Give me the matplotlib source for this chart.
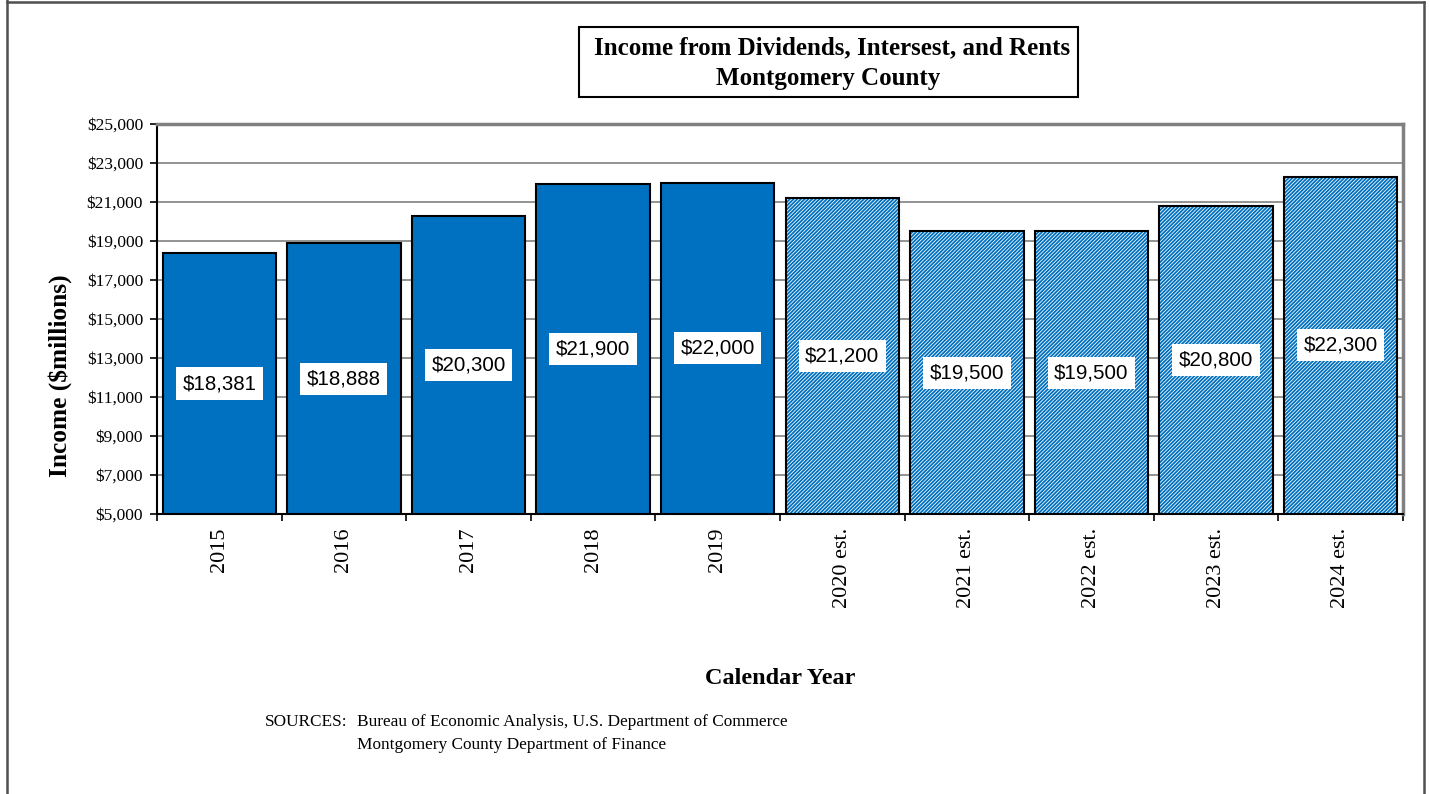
import matplotlib
matplotlib.use("Agg")
import matplotlib.pyplot as plt
from matplotlib.patches import Rectangle
from matplotlib.lines import Line2D
from matplotlib.ticker import FuncFormatter, FixedLocator

categories = ["2015", "2016", "2017", "2018", "2019",
              "2020 est.", "2021 est.", "2022 est.", "2023 est.", "2024 est."]
values = [18381, 18888, 20300, 21900, 22000, 21200, 19500, 19500, 20800, 22300]
value_labels = ["$18,381", "$18,888", "$20,300", "$21,900", "$22,000",
                "$21,200", "$19,500", "$19,500", "$20,800", "$22,300"]
estimated = [False, False, False, False, False, True, True, True, True, True]
y_ticks = [5000, 7000, 9000, 11000, 13000, 15000, 17000, 19000, 21000, 23000, 25000]

BLUE = "#0070C0"
SERIF = "Liberation Serif"
SANS = "Liberation Sans"
plt.rcParams["hatch.linewidth"] = 1.3

W, H = 1430, 794
fig = plt.figure(figsize=(W / 100, H / 100), dpi=100)
ax = fig.add_axes([157 / W, 1 - 514 / H, (1403 - 157) / W, (514 - 124) / H])

ymin, ymax = 5000, 25000
x = list(range(len(categories)))
bw = 0.91
for i, (v, est) in enumerate(zip(values, estimated)):
    h = v - ymin
    if est:
        ax.bar(i, h, bottom=ymin, width=bw, facecolor="white", edgecolor=BLUE,
               hatch="/////////", linewidth=0, zorder=3)
        ax.bar(i, h, bottom=ymin, width=bw, fill=False, edgecolor="black",
               linewidth=1.5, zorder=4)
    else:
        ax.bar(i, h, bottom=ymin, width=bw, color=BLUE, edgecolor="black",
               linewidth=1.5, zorder=3)
    ax.text(i, (ymin + v) / 2, value_labels[i], ha="center", va="center",
            fontsize=14.8, family=SANS, zorder=5,
            bbox=dict(boxstyle="square,pad=0.32", facecolor="white", edgecolor="none"))

ax.set_xlim(-0.5, len(categories) - 0.5)
ax.set_ylim(ymin, ymax)
ax.set_yticks(y_ticks)
ax.yaxis.set_major_formatter(FuncFormatter(lambda v, p: f"${v:,.0f}"))
ax.grid(axis="y", color="#808080", linewidth=1.2, zorder=1)
ax.set_axisbelow(True)

ax.set_xticks(x)
ax.set_xticklabels(categories, rotation=90, family=SERIF, fontsize=16)
ax.xaxis.set_minor_locator(FixedLocator([i + 0.5 for i in range(-1, len(categories))]))
ax.tick_params(axis="x", which="major", length=0, pad=10)
ax.tick_params(axis="x", which="minor", length=5, width=1.2, direction="out")
ax.tick_params(axis="y", length=5, width=1.2, direction="out", labelsize=12.5, pad=5)
for lab in ax.get_yticklabels():
    lab.set_family(SERIF)

for s in ["top", "right"]:
    ax.spines[s].set_color("#808080")
    ax.spines[s].set_linewidth(2.5)
for s in ["left", "bottom"]:
    ax.spines[s].set_color("black")
    ax.spines[s].set_linewidth(1.5)

fig.text(60 / W, 1 - 376 / H, "Income ($millions)", rotation=90, ha="center", va="center",
         family=SERIF, fontweight="bold", fontsize=18.3)
fig.text(780 / W, 1 - 679 / H, "Calendar Year", ha="center", va="center",
         family=SERIF, fontweight="bold", fontsize=17.5)

# title box
fig.patches.append(Rectangle((579 / W, 1 - 97 / H), (1078 - 579) / W, (97 - 27) / H,
                             transform=fig.transFigure, facecolor="white",
                             edgecolor="black", linewidth=1.5))
fig.text(832 / W, 1 - 48 / H, "Income from Dividends, Intersest, and Rents",
         ha="center", va="center", family=SERIF, fontweight="bold", fontsize=18)
fig.text(828 / W, 1 - 78 / H, "Montgomery County",
         ha="center", va="center", family=SERIF, fontweight="bold", fontsize=18)

# sources
fig.text(265 / W, 1 - 722 / H, "SOURCES:", ha="left", va="center", family=SERIF, fontsize=12.4)
fig.text(357 / W, 1 - 722 / H, "Bureau of Economic Analysis, U.S. Department of Commerce",
         ha="left", va="center", family=SERIF, fontsize=12.4)
fig.text(357 / W, 1 - 745 / H, "Montgomery County Department of Finance",
         ha="left", va="center", family=SERIF, fontsize=12.4)

# outer frame
for xs, ys in [([7, 7], [0, H]), ([7, 1424], [2, 2]), ([1424, 1424], [2, H])]:
    fig.add_artist(Line2D([a / W for a in xs], [1 - b / H for b in ys],
                          transform=fig.transFigure, color="#505050", linewidth=1.8))

fig.savefig("out.png", dpi=100)
